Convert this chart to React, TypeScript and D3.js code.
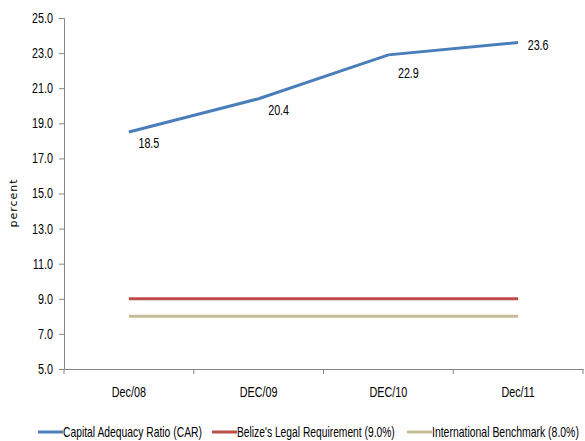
import { useEffect, useRef } from "react";
import * as d3 from "d3";

const periods = ["Dec/08", "DEC/09", "DEC/10", "Dec/11"];
const carValues = [18.5, 20.4, 22.9, 23.6];
const legalValues = [9.0, 9.0, 9.0, 9.0];
const benchmarkValues = [8.0, 8.0, 8.0, 8.0];
const yTicks = [5, 7, 9, 11, 13, 15, 17, 19, 21, 23, 25];

const seriesNames = [
  "Capital Adequacy Ratio (CAR)",
  "Belize's Legal Requirement (9.0%)",
  "International Benchmark (8.0%)",
];
const seriesColors = ["#4a7ebb", "#be4b48", "#c4bd97"];

const FONT = "'Liberation Sans', Arial, sans-serif";
const FS = 14;
const SQUEEZE = 0.77; // narrow the glyphs to look like Calibri

const drawChart = (svgEl: SVGSVGElement) => {
  const svg = d3.select(svgEl);
  svg.selectAll("*").remove();

  const left = 64;
  const right = 583;
  const top = 18;
  const bottom = 369;

  const x = d3.scaleBand<string>().domain(periods).range([left, right]);
  const y = d3.scaleLinear().domain([5, 25]).range([bottom, top]);
  const cx = (p: string) => (x(p) ?? 0) + x.bandwidth() / 2;

  // y axis
  const yAxis = svg
    .append("g")
    .attr("transform", `translate(${left},0)`)
    .call(d3.axisLeft(y).tickValues(yTicks).tickFormat(d3.format(".1f")).tickSize(5));
  yAxis.select(".domain").attr("stroke", "#868686");
  yAxis.selectAll(".tick line").attr("stroke", "#868686");
  yAxis
    .selectAll(".tick text")
    .attr("x", -11 / SQUEEZE)
    .attr("transform", `scale(${SQUEEZE},1)`)
    .attr("font-family", FONT)
    .attr("font-size", FS)
    .attr("fill", "#000");

  // x axis
  const xAxis = svg
    .append("g")
    .attr("transform", `translate(0,${bottom})`)
    .call(d3.axisBottom(x).tickSize(0).tickPadding(18));
  xAxis.select(".domain").attr("stroke", "#868686");
  xAxis
    .selectAll(".tick text")
    .attr("transform", `scale(${SQUEEZE},1)`)
    .attr("font-family", FONT)
    .attr("font-size", FS)
    .attr("fill", "#000");
  xAxis
    .selectAll("line.sep")
    .data(d3.range(periods.length + 1))
    .enter()
    .append("line")
    .attr("class", "sep")
    .attr("x1", (i) => left + i * x.bandwidth())
    .attr("x2", (i) => left + i * x.bandwidth())
    .attr("y1", 0)
    .attr("y2", 5)
    .attr("stroke", "#868686");

  // y label
  svg
    .append("text")
    .attr("transform", `translate(17,203) rotate(-90)`)
    .attr("text-anchor", "middle")
    .attr("font-family", "'DejaVu Sans', sans-serif")
    .attr("font-size", 11)
    .attr("letter-spacing", 1)
    .text("percent");

  const line = d3
    .line<number>()
    .x((_, i) => cx(periods[i]))
    .y((d) => y(d));

  const allSeries = [carValues, legalValues, benchmarkValues];
  [2, 1, 0].forEach((i) => {
    svg
      .append("path")
      .datum(allSeries[i])
      .attr("fill", "none")
      .attr("stroke", seriesColors[i])
      .attr("stroke-width", 3)
      .attr("d", line);
  });

  // data labels for CAR
  svg
    .append("g")
    .selectAll("text")
    .data(carValues)
    .enter()
    .append("text")
    .attr(
      "transform",
      (d, i) =>
        `translate(${cx(periods[i]) + 20},${
          y(d) + (i === carValues.length - 1 ? 7 : i === 2 ? 23 : 16)
        }) scale(${SQUEEZE},1)`
    )
    .attr("text-anchor", "middle")
    .attr("font-family", FONT)
    .attr("font-size", FS)
    .text((d) => d.toFixed(1));

  // legend: squeeze each label to the width it has in the original
  const legendX = [38, 212, 407];
  const legendTextW = [139, 158, 147];
  seriesNames.forEach((name, i) => {
    const g = svg.append("g").attr("transform", `translate(${legendX[i]},432)`);
    g.append("line")
      .attr("x1", 0)
      .attr("x2", 25)
      .attr("stroke", seriesColors[i])
      .attr("stroke-width", 3);
    const t = g
      .append("text")
      .attr("font-family", FONT)
      .attr("font-size", 14)
      .text(name);
    const natural = (t.node() as SVGTextElement).getComputedTextLength() || legendTextW[i];
    t.attr("transform", `translate(25,5) scale(${legendTextW[i] / natural},1)`);
  });
};

const App = () => {
  const svgRef = useRef<SVGSVGElement>(null);

  useEffect(() => {
    if (svgRef.current) drawChart(svgRef.current);
  }, []);

  return (
    <svg
      ref={svgRef}
      width={585}
      height={441}
      style={{ position: "absolute", left: 0, top: 0, background: "#fff" }}
    ></svg>
  );
};

export default App;
